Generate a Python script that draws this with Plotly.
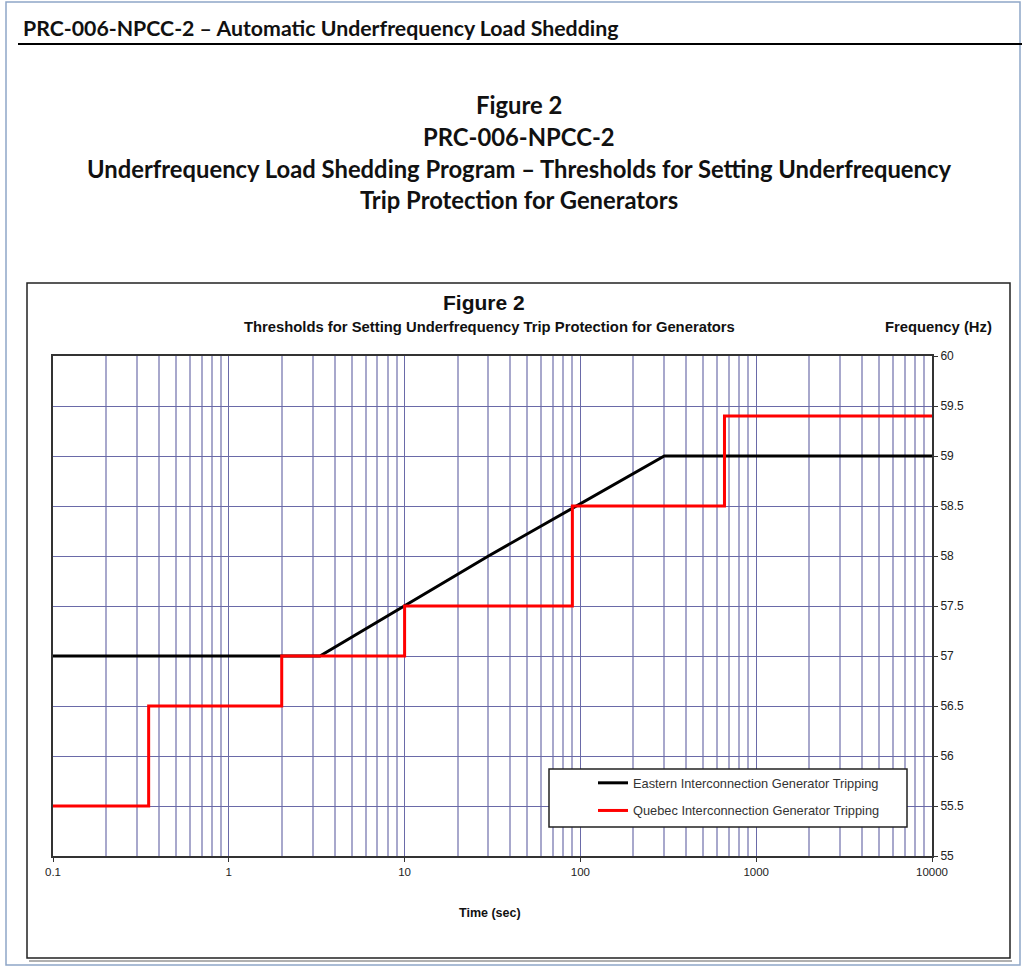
import plotly.graph_objects as go

# Eastern Interconnection generator tripping threshold (time in s, frequency in Hz)
eastern_time = [0.1, 3.3, 30, 300, 10000]
eastern_freq = [57.0, 57.0, 58.0, 59.0, 59.0]

# Quebec Interconnection generator tripping threshold (stepped)
quebec_time = [0.1, 0.35, 2, 10, 90, 660, 10000]
quebec_freq = [55.5, 56.5, 57.0, 57.5, 58.5, 59.4, 59.4]

x_tick_vals = [0.1, 1, 10, 100, 1000, 10000]
x_tick_text = ["0.1", "1", "10", "100", "1000", "10000"]
y_tick_vals = [55, 55.5, 56, 56.5, 57, 57.5, 58, 58.5, 59, 59.5, 60]
y_tick_text = ["55", "55.5", "56", "56.5", "57", "57.5", "58", "58.5", "59", "59.5", "60"]

# minor gridlines at 2..9 within each decade
minor_vals = [d * m for d in [0.1, 1, 10, 100, 1000] for m in range(2, 10)]

W, H = 1022, 968
L, R, T, B = 53, 90, 356, 112
PW, PH = W - L - R, H - T - B


def px(x):
    return (x - L) / PW


def py(y):
    return (H - B - y) / PH


ARIAL = "Liberation Sans, Arial, sans-serif"
DOC = "Lato, Calibri, sans-serif"

fig = go.Figure()
fig.add_trace(go.Scatter(
    x=eastern_time, y=eastern_freq, mode="lines",
    name="Eastern Interconnection Generator Tripping",
    line=dict(color="#000000", width=3), legendgroup="e",
))
fig.add_trace(go.Scatter(
    x=quebec_time, y=quebec_freq, mode="lines", line_shape="hv",
    name="Quebec Interconnection Generator Tripping",
    line=dict(color="#ff0000", width=3), legendgroup="q",
))

grid_major = "#6a6aa8"
grid_minor = "#a8a8cc"

fig.update_xaxes(
    type="log", range=[-1, 4],
    tickvals=x_tick_vals, ticktext=x_tick_text,
    showgrid=True, gridcolor=grid_major, gridwidth=1,
    minor=dict(tickvals=minor_vals, showgrid=True, gridcolor=grid_minor,
               gridwidth=1.5, ticks=""),
    ticks="outside", ticklen=4, tickcolor="#333", tickwidth=1,
    showline=True, linecolor="#333", linewidth=2, mirror=True,
    tickfont=dict(family=ARIAL, size=11.5, color="#222"),
    zeroline=False,
)
fig.update_yaxes(
    range=[55, 60], side="right",
    tickvals=y_tick_vals, ticktext=y_tick_text,
    showgrid=True, gridcolor=grid_major, gridwidth=1,
    ticks="outside", ticklen=4, tickcolor="#333", tickwidth=1,
    showline=True, linecolor="#333", linewidth=2, mirror=True,
    tickfont=dict(family=ARIAL, size=12, color="#222"),
    zeroline=False,
)

shapes = [
    # page frame
    dict(type="rect", xref="paper", yref="paper",
         x0=px(6), x1=px(1020), y0=py(965), y1=py(2),
         line=dict(color="#8fa6c8", width=1.5), layer="below"),
    # header rule
    dict(type="line", xref="paper", yref="paper",
         x0=px(18), x1=px(1022), y0=py(44), y1=py(44),
         line=dict(color="#000", width=2)),
    # chart box shadow
    dict(type="line", xref="paper", yref="paper",
         x0=px(29), x1=px(1012), y0=py(961), y1=py(961),
         line=dict(color="#b0b0b0", width=2)),
    # chart box
    dict(type="rect", xref="paper", yref="paper",
         x0=px(27), x1=px(1010), y0=py(958), y1=py(283),
         line=dict(color="#222", width=1.5), layer="below"),
    # legend box
    dict(type="rect", xref="paper", yref="paper",
         x0=px(549), x1=px(907), y0=py(827), y1=py(769),
         line=dict(color="#222", width=1.5), fillcolor="#ffffff", layer="above"),
]

annotations = [
    dict(text="<b>PRC-006-NPCC-2 – Automatic Underfrequency Load Shedding</b>",
         x=px(21), y=py(28), xanchor="left", yanchor="middle",
         font=dict(family=DOC, size=21.3, color="#111")),
    dict(text="<b>Figure 2</b>", x=px(519), y=py(105),
         font=dict(family=DOC, size=23.8, color="#111")),
    dict(text="<b>PRC-006-NPCC-2</b>", x=px(519), y=py(137),
         font=dict(family=DOC, size=23.8, color="#111")),
    dict(text="<b>Underfrequency Load Shedding Program – Thresholds for Setting Underfrequency</b>",
         x=px(519), y=py(169), font=dict(family=DOC, size=23.8, color="#111")),
    dict(text="<b>Trip Protection for Generators</b>", x=px(519), y=py(200),
         font=dict(family=DOC, size=23.8, color="#111")),
    dict(text="<b>Figure 2</b>", x=px(484), y=py(303),
         font=dict(family=ARIAL, size=21, color="#111")),
    dict(text="<b>Thresholds for Setting Underfrequency Trip Protection for Generators</b>",
         x=px(489.5), y=py(327), font=dict(family=ARIAL, size=14.8, color="#111")),
    dict(text="<b>Frequency (Hz)</b>", x=px(883), y=py(327), xanchor="left",
         font=dict(family=ARIAL, size=14.8, color="#111")),
    dict(text="<b>Time (sec)</b>", x=px(490), y=py(913),
         font=dict(family=ARIAL, size=12.5, color="#111")),
]
for a in annotations:
    a.setdefault("xanchor", "center")
    a.setdefault("yanchor", "middle")
    a.update(xref="paper", yref="paper", showarrow=False)

fig.update_layout(
    width=W, height=H,
    margin=dict(l=L, r=R, t=T, b=B),
    paper_bgcolor="#ffffff", plot_bgcolor="#ffffff",
    shapes=shapes, annotations=annotations,
    showlegend=True,
    legend=dict(x=px(593), y=py(768), xanchor="left", yanchor="top",
                bgcolor="rgba(0,0,0,0)", borderwidth=0,
                tracegroupgap=8,
                font=dict(family=ARIAL, size=12.8, color="#333")),
    hovermode=False,
)

fig.write_html("out.html")
